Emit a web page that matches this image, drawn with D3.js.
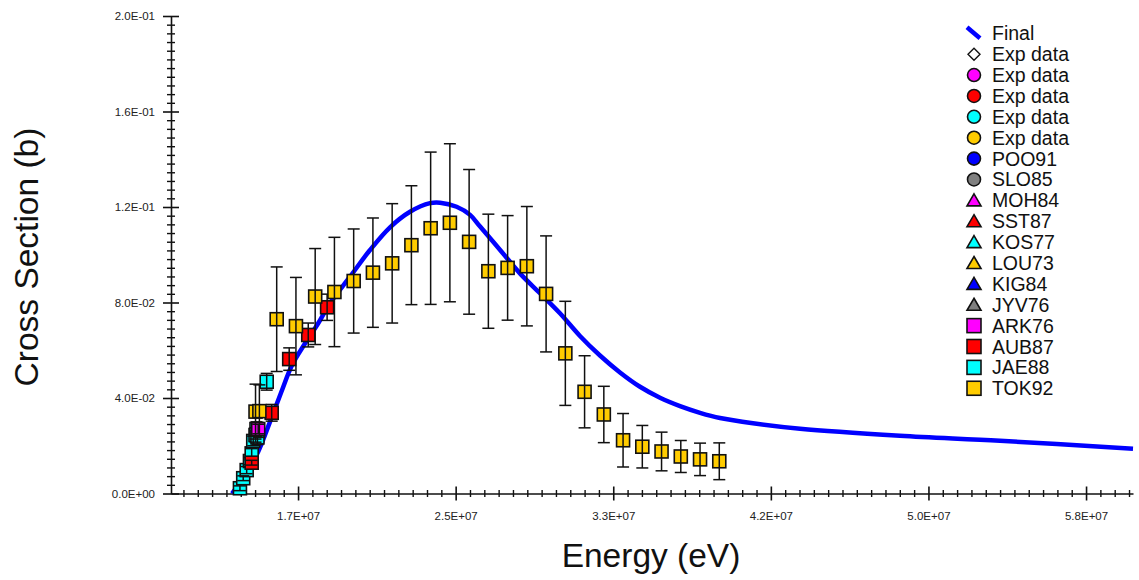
<!DOCTYPE html>
<html>
<head>
<meta charset="utf-8">
<script src="https://cdn.jsdelivr.net/npm/d3@7"></script>
<style>
  body { margin: 0; background: #fff; }
  svg { display: block; font-family: Arial, "Liberation Sans", Helvetica, sans-serif; }
</style>
</head>
<body>
<svg id="chart" width="1139" height="580"></svg>
<script>
// ---- Evaluated cross section (energy in eV, sigma in barns) ----
const finalEnergy = [1.368e7, 1.435e7, 1.503e7, 1.565e7, 1.622e7, 1.680e7, 1.747e7, 1.815e7, 1.877e7,
  1.981e7, 2.085e7, 2.189e7, 2.293e7, 2.397e7, 2.449e7, 2.535e7, 2.605e7, 2.657e7, 2.761e7,
  2.864e7, 2.968e7, 3.072e7, 3.176e7, 3.280e7, 3.384e7, 3.488e7, 3.592e7, 3.696e7, 3.800e7,
  3.904e7, 4.075e7, 4.320e7, 4.839e7, 5.359e7, 6.050e7];
const finalSigma = [0.0000, 0.0078, 0.0174, 0.0300, 0.0421, 0.0538, 0.0628, 0.0712, 0.0797,
  0.0908, 0.1020, 0.1115, 0.1180, 0.1216, 0.1218, 0.1201, 0.1167, 0.1118, 0.1020,
  0.0922, 0.0839, 0.0755, 0.0660, 0.0578, 0.0507, 0.0447, 0.0401, 0.0366, 0.0338,
  0.0316, 0.0294, 0.0271, 0.0242, 0.0221, 0.0187];

// ---- Measurements ----
const tok92Energy = [1.49e7, 1.51e7, 1.6e7, 1.7e7, 1.8e7, 1.9e7, 2.0e7, 2.1e7, 2.2e7, 2.3e7, 2.4e7, 2.5e7,
  2.6e7, 2.7e7, 2.8e7, 2.9e7, 3.0e7, 3.1e7, 3.2e7, 3.3e7, 3.4e7, 3.5e7, 3.6e7, 3.7e7, 3.8e7, 3.9e7];
const tok92Sigma = [0.0343, 0.0345, 0.0730, 0.0701, 0.0825, 0.0844, 0.0890, 0.0925, 0.0964, 0.1040, 0.1111, 0.1134,
  0.1054, 0.0931, 0.0945, 0.0952, 0.0836, 0.0587, 0.0426, 0.0331, 0.0223, 0.0196, 0.0176, 0.0155, 0.0143, 0.0135];
const tok92Error = [0.0115, 0.0110, 0.0219, 0.0204, 0.0201, 0.0229, 0.0218, 0.0229, 0.0250, 0.0249, 0.0319, 0.0331,
  0.0303, 0.0239, 0.0219, 0.0250, 0.0243, 0.0218, 0.0151, 0.0118, 0.0112, 0.0089, 0.0081, 0.0067, 0.0068, 0.0077];

const aub87Energy = [1.470e7, 1.574e7, 1.665e7, 1.764e7, 1.862e7];
const aub87Sigma  = [0.0129, 0.0338, 0.0563, 0.0664, 0.0780];
const aub87Error  = [0.0010, 0.0035, 0.0047, 0.0050, 0.0055];

const jae88Energy = [1.409e7, 1.426e7, 1.444e7, 1.461e7, 1.470e7, 1.478e7, 1.490e7, 1.495e7, 1.500e7, 1.548e7];
const jae88Sigma  = [0.0022, 0.0064, 0.0098, 0.0136, 0.0168, 0.0220, 0.0245, 0.0270, 0.0235, 0.0468];
const jae88Error  = [0.0010, 0.0010, 0.0015, 0.0015, 0.0020, 0.0020, 0.0030, 0.0030, 0.0030, 0.0035];

const ark76Energy = [1.504e7];
const ark76Sigma  = [0.0270];
const ark76Error  = [0.0020];

// ---- Axis ticks ----
const xTickValues = [1.711e7, 2.530e7, 3.349e7, 4.168e7, 4.987e7, 5.806e7];
const xTickLabels = ["1.7E+07", "2.5E+07", "3.3E+07", "4.2E+07", "5.0E+07", "5.8E+07"];
const yTickValues = [0, 0.04, 0.08, 0.12, 0.16, 0.20];
const yTickLabels = ["0.0E+00", "4.0E-02", "8.0E-02", "1.2E-01", "1.6E-01", "2.0E-01"];

// ---- Legend ----
const legendLabels = ["Final", "Exp data", "Exp data", "Exp data", "Exp data", "Exp data",
  "POO91", "SLO85", "MOH84", "SST87", "KOS77", "LOU73", "KIG84", "JYV76",
  "ARK76", "AUB87", "JAE88", "TOK92"];

// ---------------------------------------------------------------
const C = { blue: "#0000ff", magenta: "#ff00ff", red: "#ff0000", cyan: "#00ffff",
            gold: "#ffcc00", grey: "#808080", ink: "#111" };

const legendStyle = [
  { shape: "line", color: C.blue },
  { shape: "diamond", color: "none" },
  { shape: "circle", color: C.magenta },
  { shape: "circle", color: C.red },
  { shape: "circle", color: C.cyan },
  { shape: "circle", color: C.gold },
  { shape: "circle", color: C.blue },
  { shape: "circle", color: C.grey },
  { shape: "triangle", color: C.magenta },
  { shape: "triangle", color: C.red },
  { shape: "triangle", color: C.cyan },
  { shape: "triangle", color: C.gold },
  { shape: "triangle", color: C.blue },
  { shape: "triangle", color: C.grey },
  { shape: "square", color: C.magenta },
  { shape: "square", color: C.red },
  { shape: "square", color: C.cyan },
  { shape: "square", color: C.gold }
];

const svg = d3.select("#chart");

const x = d3.scaleLinear().domain([1.0507e7, 6.05e7]).range([171, 1133]);
const y = d3.scaleLinear().domain([0, 0.2]).range([493.5, 16]);

// minor tick positions: 11 subdivisions between majors
function minorTicks(scale, majors, n) {
  const step = (majors[1] - majors[0]) / n;
  const [lo, hi] = scale.domain();
  const out = [];
  for (let k = -Math.ceil((majors[0] - lo) / step); ; k++) {
    const v = majors[0] + k * step;
    if (v > hi + 1e-9) break;
    if (v < lo - 1e-9) continue;
    if (((k % n) + n) % n === 0) continue;
    out.push(v);
  }
  return out;
}

// ---- Y axis ----
const yMinor = minorTicks(y, yTickValues, 11);
const gyMinor = svg.append("g").attr("transform", "translate(171,0)")
  .call(d3.axisLeft(y).tickValues(yMinor).tickFormat("").tickSize(4).tickSizeOuter(0));
gyMinor.select(".domain").remove();
gyMinor.selectAll(".tick line").attr("x1", 4).attr("stroke", C.ink).attr("stroke-width", 1.4);

const gy = svg.append("g").attr("transform", "translate(171,0)")
  .call(d3.axisLeft(y).tickValues(yTickValues).tickFormat((d, i) => yTickLabels[i])
    .tickSize(8).tickSizeOuter(0).tickPadding(8));
gy.select(".domain").attr("stroke", C.ink).attr("stroke-width", 1.6);
gy.selectAll(".tick line").attr("x1", 8).attr("stroke", C.ink).attr("stroke-width", 1.6);
gy.selectAll(".tick text").attr("font-size", 11.5).attr("fill", "#222")
  .attr("font-family", "Arial, 'Liberation Sans', sans-serif");

// ---- X axis ----
const xMinor = minorTicks(x, xTickValues, 11);
const gxMinor = svg.append("g").attr("transform", "translate(0,493.5)")
  .call(d3.axisBottom(x).tickValues(xMinor).tickFormat("").tickSize(3.5).tickSizeOuter(0));
gxMinor.select(".domain").remove();
gxMinor.selectAll(".tick line").attr("y1", -3.5).attr("stroke", C.ink).attr("stroke-width", 1.4);

const gx = svg.append("g").attr("transform", "translate(0,493.5)")
  .call(d3.axisBottom(x).tickValues(xTickValues).tickFormat((d, i) => xTickLabels[i])
    .tickSize(7).tickSizeOuter(0).tickPadding(11.5));
gx.select(".domain").attr("stroke", C.ink).attr("stroke-width", 1.6);
gx.selectAll(".tick line").attr("y1", -7).attr("stroke", C.ink).attr("stroke-width", 1.6);
gx.selectAll(".tick text").attr("font-size", 11.5).attr("fill", "#222")
  .attr("font-family", "Arial, 'Liberation Sans', sans-serif");

// ---- Axis titles ----
svg.append("text").attr("x", 651).attr("y", 567).attr("text-anchor", "middle")
  .attr("font-size", 33.5).attr("fill", "#111").text("Energy (eV)");
svg.append("text").attr("transform", "translate(38,257) rotate(-90)").attr("text-anchor", "middle")
  .attr("font-size", 33.5).attr("fill", "#111").text("Cross Section (b)");

// ---- Evaluated curve ----
const finalPts = finalEnergy.map((e, i) => [e, finalSigma[i]]);
svg.append("path")
  .datum(finalPts)
  .attr("fill", "none")
  .attr("stroke", C.blue)
  .attr("stroke-width", 4.5)
  .attr("stroke-linejoin", "round")
  .attr("d", d3.line().x(d => x(d[0])).y(d => y(d[1])).curve(d3.curveCatmullRom.alpha(0.5)));

// ---- Measured points with error bars ----
const sq = 13, cap = 12;
function drawSet(energy, sigma, err, color) {
  const pts = energy.map((e, i) => ({ e, s: sigma[i], d: err[i] }));
  const g = svg.append("g");
  g.selectAll("rect").data(pts).join("rect")
    .attr("x", d => x(d.e) - sq / 2).attr("y", d => y(d.s) - sq / 2)
    .attr("width", sq).attr("height", sq)
    .attr("fill", color).attr("stroke", C.ink).attr("stroke-width", 1.6);
  const eb = g.selectAll("g.eb").data(pts).join("g").attr("class", "eb")
    .attr("stroke", C.ink).attr("stroke-width", 1.5);
  eb.append("line").attr("x1", d => x(d.e)).attr("x2", d => x(d.e))
    .attr("y1", d => y(d.s + d.d)).attr("y2", d => y(d.s - d.d));
  eb.append("line").attr("x1", d => x(d.e) - cap / 2).attr("x2", d => x(d.e) + cap / 2)
    .attr("y1", d => y(d.s + d.d)).attr("y2", d => y(d.s + d.d));
  eb.append("line").attr("x1", d => x(d.e) - cap / 2).attr("x2", d => x(d.e) + cap / 2)
    .attr("y1", d => y(d.s - d.d)).attr("y2", d => y(d.s - d.d));
}
drawSet(jae88Energy, jae88Sigma, jae88Error, C.cyan);
drawSet(ark76Energy, ark76Sigma, ark76Error, C.magenta);
drawSet(aub87Energy, aub87Sigma, aub87Error, C.red);
drawSet(tok92Energy, tok92Sigma, tok92Error, C.gold);

// ---- Legend ----
const lg = svg.append("g").attr("transform", "translate(974,0)");
const rowY = i => 33.3 + i * 20.88;
legendLabels.forEach((label, i) => {
  const st = legendStyle[i];
  const cy = rowY(i);
  const g = lg.append("g");
  if (st.shape === "line") {
    g.append("line").attr("x1", -7).attr("y1", cy - 6).attr("x2", 6).attr("y2", cy + 5)
      .attr("stroke", st.color).attr("stroke-width", 4.5);
  } else if (st.shape === "diamond") {
    g.append("path").attr("d", `M0,${cy - 6}L6,${cy}L0,${cy + 6}L-6,${cy}Z`)
      .attr("fill", "#fff").attr("stroke", C.ink).attr("stroke-width", 1.4);
  } else if (st.shape === "circle") {
    g.append("circle").attr("cx", 0).attr("cy", cy).attr("r", 6.5)
      .attr("fill", st.color).attr("stroke", C.ink).attr("stroke-width", 1.6);
  } else if (st.shape === "triangle") {
    g.append("path").attr("d", `M0,${cy - 6.5}L7,${cy + 5.5}L-7,${cy + 5.5}Z`)
      .attr("fill", st.color).attr("stroke", C.ink).attr("stroke-width", 1.6);
  } else {
    g.append("rect").attr("x", -7).attr("y", cy - 7).attr("width", 14).attr("height", 14)
      .attr("fill", st.color).attr("stroke", C.ink).attr("stroke-width", 1.6);
  }
  g.append("text").attr("x", 18).attr("y", cy).attr("dy", "0.36em")
    .attr("font-size", 19.5).attr("fill", "#111").text(label);
});
</script>
</body>
</html>
